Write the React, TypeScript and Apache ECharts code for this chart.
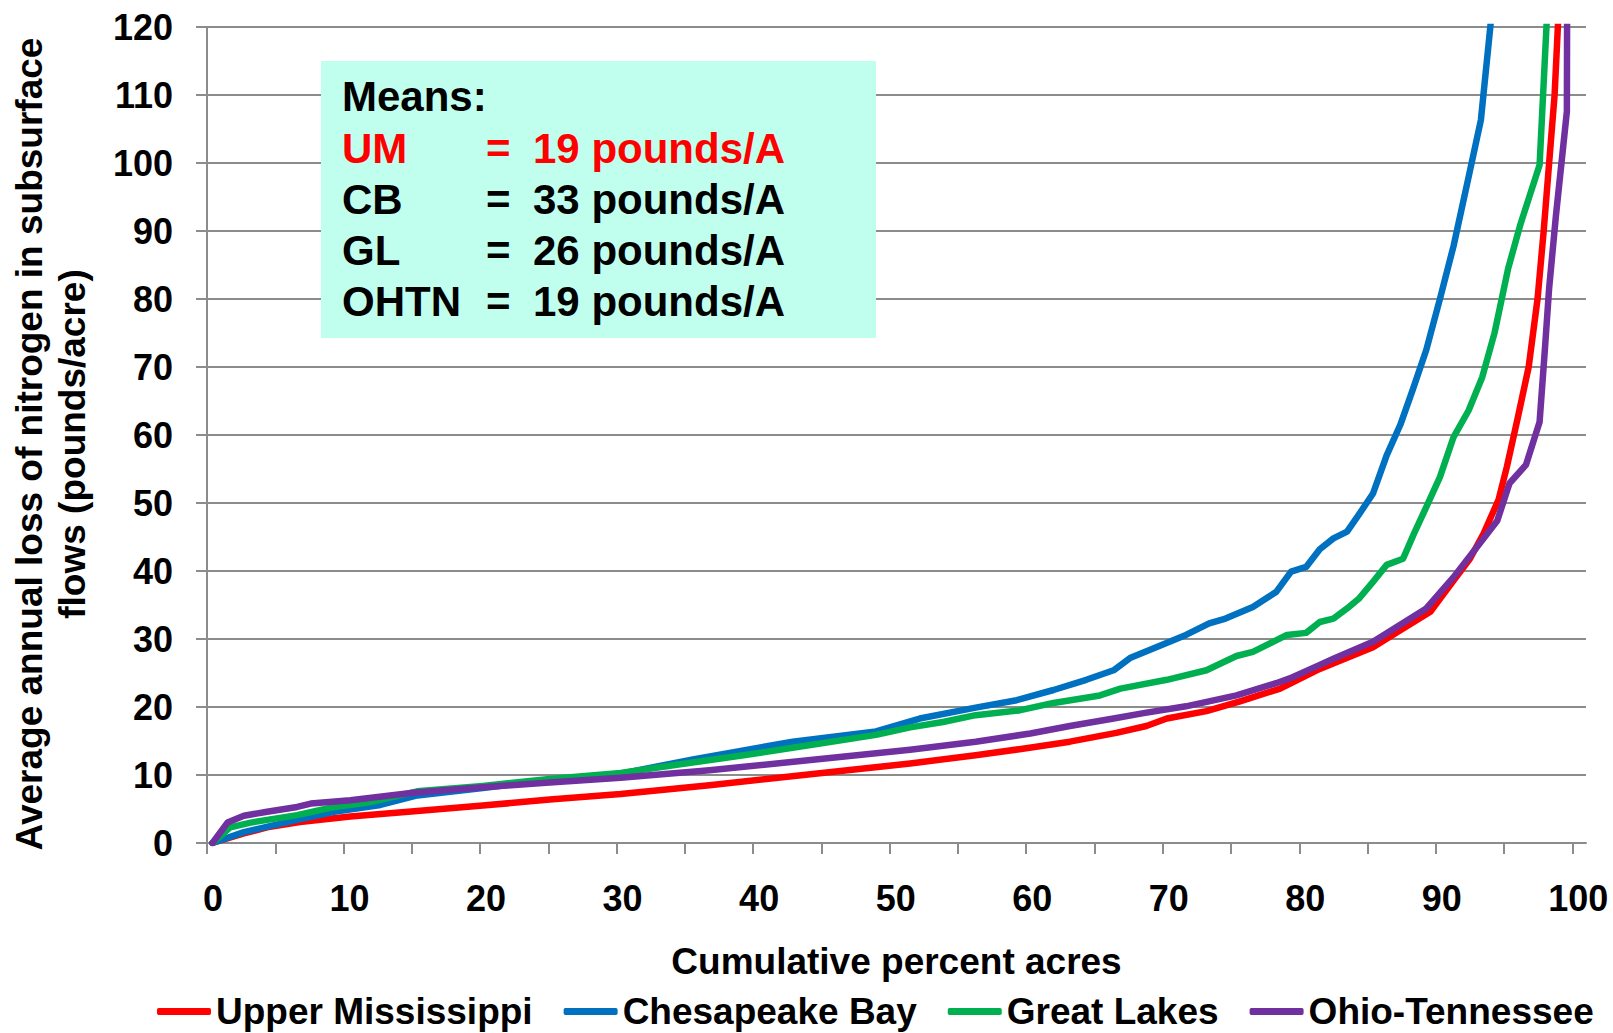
import React, { useEffect, useRef } from "react";
import * as echarts from "echarts";

const seriesNames = ["Upper Mississippi", "Chesapeake Bay", "Great Lakes", "Ohio-Tennessee"];
const seriesColors = ["#FF0000", "#0070C0", "#00B050", "#7030A0"];

const umX = [0.4, 2.7, 4.4, 6.8, 10.5, 15.4, 20.2, 25.1, 30.3, 36.8, 44.2, 51.5, 56.3, 59.5, 63.2, 66.6, 68.8, 70.3, 73.2, 75.6, 78.6, 81.5, 85.4, 87.4, 89.6, 91.3, 92.5, 93.5, 94.6, 95.2, 96.0, 96.8, 97.45, 97.9, 98.3, 98.7, 99.2];
const umY = [0, 1.4, 2.3, 3.1, 3.9, 4.7, 5.5, 6.4, 7.2, 8.5, 10.1, 11.7, 12.9, 13.8, 14.9, 16.2, 17.2, 18.3, 19.4, 20.8, 22.7, 25.6, 28.8, 31.3, 34.0, 38.6, 41.8, 45.5, 50.5, 55.3, 62.5, 70, 80, 90, 100, 110, 131];

const cbX = [0.4, 2.7, 6.6, 9.3, 12.7, 15.4, 20.2, 25.1, 30.3, 35.6, 42.9, 49.0, 52.2, 56.3, 59.3, 62.0, 64.4, 66.4, 67.6, 69.3, 71.7, 73.4, 74.6, 76.6, 78.3, 79.4, 80.5, 81.5, 82.5, 83.5, 84.4, 85.4, 86.4, 87.4, 88.3, 89.3, 90.3, 91.3, 92.3, 93.3, 95.0];
const cbY = [0, 1.6, 3.4, 4.6, 5.6, 7.0, 8.1, 9.3, 10.2, 12.3, 14.9, 16.4, 18.3, 19.9, 21.0, 22.5, 24.0, 25.4, 27.2, 28.6, 30.6, 32.3, 33.0, 34.7, 36.9, 39.9, 40.6, 43.2, 44.8, 45.8, 48.4, 51.4, 57.0, 61.5, 66.6, 72.5, 80.0, 87.8, 97.0, 106.3, 140];

const glX = [0.4, 1.7, 3.2, 6.6, 9.3, 11.7, 15.4, 20.2, 25.1, 30.3, 34.4, 39.3, 44.2, 49.0, 51.5, 53.9, 56.3, 59.5, 62.0, 65.4, 66.9, 70.3, 73.2, 75.4, 76.6, 79.1, 80.5, 81.5, 82.5, 83.5, 84.4, 85.4, 86.4, 87.6, 88.4, 89.3, 90.3, 91.3, 92.4, 93.4, 94.3, 95.3, 96.2, 97.6, 98.5];
const glY = [0, 2.3, 3.0, 4.1, 5.3, 5.9, 7.6, 8.4, 9.4, 10.3, 11.5, 12.9, 14.4, 15.9, 17.0, 17.8, 18.8, 19.5, 20.6, 21.7, 22.7, 24.0, 25.4, 27.5, 28.1, 30.6, 30.9, 32.5, 33.0, 34.5, 36.0, 38.4, 40.9, 41.8, 45.5, 49.4, 53.8, 59.7, 63.6, 68.5, 75.0, 84.5, 91.0, 99.7, 136];

const otX = [0.4, 1.5, 2.7, 4.4, 6.6, 7.6, 10.5, 15.1, 20.2, 25.1, 30.3, 36.8, 44.2, 51.5, 56.3, 60.3, 63.2, 66.4, 68.6, 71.7, 75.4, 78.3, 79.3, 81.5, 82.5, 85.4, 89.3, 91.3, 93.0, 94.5, 95.4, 96.6, 97.6, 98.0, 98.3, 98.8, 99.6, 99.7];
const otY = [0, 3.0, 4.0, 4.6, 5.3, 5.8, 6.3, 7.4, 8.2, 8.9, 9.6, 10.7, 12.2, 13.7, 14.9, 16.1, 17.2, 18.3, 19.1, 20.1, 21.7, 23.5, 24.2, 26.2, 27.1, 29.6, 34.5, 39.1, 43.5, 47.4, 52.9, 55.6, 61.9, 72.9, 81.6, 92.3, 107.6, 200];

const xTickValues = [0, 5, 10, 15, 20, 25, 30, 35, 40, 45, 50, 55, 60, 65, 70, 75, 80, 85, 90, 95, 100];
const xLabelValues = [0, 10, 20, 30, 40, 50, 60, 70, 80, 90, 100];

const meansLabels = ["UM", "CB", "GL", "OHTN"];
const meansValues = ["19 pounds/A", "33 pounds/A", "26 pounds/A", "19 pounds/A"];
const meansColors = ["#FF0000", "#000000", "#000000", "#000000"];

const xTitle = "Cumulative percent acres";
const yTitle = "Average annual loss of nitrogen in subsurface\nflows (pounds/acre)";

const FONT = '"Liberation Sans", Arial, Helvetica, sans-serif';

function zip(xs: number[], ys: number[]) {
  return xs.map((x, i) => [x, ys[i]]);
}

export default function App() {
  const ref = useRef<HTMLDivElement>(null);

  useEffect(() => {
    if (!ref.current) return;
    const chart = echarts.init(ref.current, null, { renderer: "svg" });
    const datasets = [zip(umX, umY), zip(cbX, cbY), zip(glX, glY), zip(otX, otY)];
    const gray = "#8c8c8c";
    const boxFont = `bold 42px ${FONT}`;

    const boxTexts: any[] = [
      {
        type: "text",
        left: 342,
        top: 75,
        style: { text: "Means:", font: boxFont, fill: "#000" },
        z: 101,
      },
    ];
    const rowY = [127, 178, 229, 280];
    meansLabels.forEach((lab, i) => {
      boxTexts.push({
        type: "text",
        left: 342,
        top: rowY[i],
        style: { text: lab, font: boxFont, fill: meansColors[i] },
        z: 101,
      });
      boxTexts.push({
        type: "text",
        left: 486,
        top: rowY[i],
        style: { text: "=", font: boxFont, fill: meansColors[i] },
        z: 101,
      });
      boxTexts.push({
        type: "text",
        left: 533,
        top: rowY[i],
        style: { text: meansValues[i], font: boxFont, fill: meansColors[i] },
        z: 101,
      });
    });

    chart.setOption({
      animation: false,
      backgroundColor: "#ffffff",
      textStyle: { fontFamily: FONT },
      grid: { left: 207, top: 27, right: 27, bottom: 190, containLabel: false, outerBoundsMode: "none" },
      legend: {
        data: seriesNames,
        left: 157,
        top: 993,
        padding: 0,
        itemGap: 31,
        itemWidth: 54,
        itemHeight: 7,
        icon: "roundRect",
        textStyle: { fontSize: 37, fontWeight: "bold", color: "#000", fontFamily: FONT },
      },
      xAxis: {
        type: "value",
        min: 0,
        max: 101,
        interval: 5,
        name: xTitle,
        nameLocation: "middle",
        nameGap: 118,
        nameTextStyle: { fontSize: 37, fontWeight: "bold", color: "#000", verticalAlign: "middle", fontFamily: FONT },
        axisLine: { show: true, onZero: false, lineStyle: { color: gray, width: 2 } },
        axisTick: { show: true, length: 11, customValues: xTickValues, lineStyle: { color: gray, width: 2 } },
        axisLabel: {
          customValues: xLabelValues,
          margin: 37,
          padding: [0, 0, 0, 12],
          fontSize: 36,
          fontWeight: "bold",
          color: "#000",
          fontFamily: FONT,
          formatter: (v: number) => (v % 10 === 0 && v <= 100 ? String(v) : ""),
        },
        splitLine: { show: false },
      },
      yAxis: {
        type: "value",
        min: 0,
        max: 120,
        interval: 10,
        axisLine: { show: true, lineStyle: { color: gray, width: 2 } },
        axisTick: { show: true, length: 11, lineStyle: { color: gray, width: 2 } },
        axisLabel: { margin: 34, fontSize: 36, fontWeight: "bold", color: "#000", fontFamily: FONT },
        splitLine: { show: true, lineStyle: { color: gray, width: 2 } },
      },
      series: seriesNames.map((name, i) => ({
        name,
        type: "line",
        data: datasets[i],
        showSymbol: false,
        symbol: "none",
        clip: true,
        color: seriesColors[i],
        lineStyle: { width: 6.5, color: seriesColors[i], cap: "round", join: "round" },
        z: 2 + i,
      })),
      graphic: [
        {
          type: "text",
          x: 51,
          y: 444,
          rotation: Math.PI / 2,
          style: {
            text: yTitle,
            font: `bold 37px ${FONT}`,
            fill: "#000",
            align: "center",
            verticalAlign: "middle",
            lineHeight: 43,
          },
          z: 50,
        },
        {
          type: "rect",
          shape: { x: 321, y: 61, width: 555, height: 277 },
          style: { fill: "#C0FFEE" },
          z: 100,
        },
        ...boxTexts,
      ],
    });

    return () => {
      chart.dispose();
    };
  }, []);

  return (
    <div
      ref={ref}
      style={{ position: "absolute", left: 0, top: 0, width: "1613px", height: "1033px", background: "#fff" }}
    />
  );
}
